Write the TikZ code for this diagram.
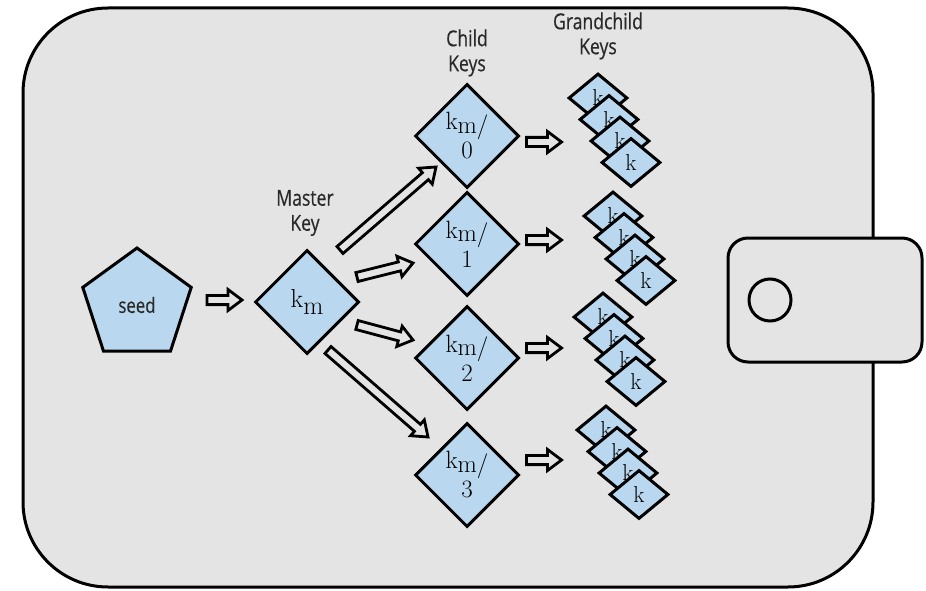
\documentclass[tikz,border=0pt]{standalone}
\usepackage{fontspec}
\usetikzlibrary{shapes.geometric,calc}
\newfontfamily\labelfont[FakeStretch=0.8,FakeBold=0.5]{Open Sans}
\definecolor{walletgray}{HTML}{E4E4E4}
\definecolor{keyblue}{HTML}{B9D8EF}
\definecolor{labelgray}{HTML}{2A2A2A}

\tikzset{
  keybox/.style={diamond, draw, fill=keyblue, line width=3pt, inner sep=0pt,
    minimum size=104pt, align=center, font=\fontsize{25}{29}\selectfont},
  subkey/.style={diamond, draw, fill=keyblue, line width=3pt, inner sep=0pt,
    minimum width=59pt, minimum height=49pt, font=\fontsize{23}{24}\selectfont},
  caption/.style={align=center, text=labelgray,
    font=\labelfont\fontsize{22}{25}\selectfont},
  % hollow block arrow from start to target
  hollow/.style={draw, fill=walletgray, line width=2.8pt, line join=miter,
    to path={($(\tikztostart)!4.6pt!90:(\tikztotarget)$)
      -- ($(\tikztotarget)!14pt!(\tikztostart)!4.6pt!90:(\tikztotarget)$)
      -- ($(\tikztotarget)!14pt!(\tikztostart)!10.5pt!90:(\tikztotarget)$)
      -- (\tikztotarget)
      -- ($(\tikztotarget)!14pt!(\tikztostart)!10.5pt!-90:(\tikztotarget)$)
      -- ($(\tikztotarget)!14pt!(\tikztostart)!4.6pt!-90:(\tikztotarget)$)
      -- ($(\tikztostart)!4.6pt!-90:(\tikztotarget)$) -- cycle}}
}

\begin{document}
\begin{tikzpicture}[x=1pt, y=-1pt]
\useasboundingbox (0,0) rectangle (926,591);

% wallet body and clasp
\draw[line width=3pt, fill=walletgray, rounded corners=85pt] (23,8) rectangle (873,587);
\draw[line width=3pt, fill=walletgray, rounded corners=20pt] (728,238) rectangle (922,362);
\draw[line width=3pt] (770,300) circle (21pt);

% seed and master key
\node[regular polygon, regular polygon sides=5, draw, fill=keyblue, line width=3pt,
  inner sep=0pt, minimum size=114pt, font=\labelfont\fontsize{21}{23}\selectfont,
  text=labelgray] (seed) at (137,305) {seed};
\node[keybox, font=\fontsize{26}{29}\selectfont] (master) at (307,302) {k\raisebox{-.6ex}{m}};
\node[caption] (mastercap) at (305,213) {Master\\Key};
\draw[hollow] ($(seed)+(70,-5)$) to ($(master)+(-65,-2)$);

% child keys
\node[caption] (childcap) at (467,53) {Child\\Keys};
\foreach \i/\y in {0/136, 1/244, 2/358, 3/475}
  \node[keybox] (kc\i) at (467,\y) {k\raisebox{-.3ex}{m/}\\\i};

\draw[hollow] ($(master)+(33,-52)$) to ($(kc0)+(-31,31)$);
\draw[hollow] ($(master)+(50,-25)$) to ($(kc1)+(-54,19)$);
\draw[hollow] ($(master)+(50,23)$) to ($(kc2)+(-54,-18)$);
\draw[hollow] ($(master)+(21,48)$) to ($(kc3)+(-39,-38)$);

% grandchild keys
\node[caption] (grandcap) at (598,36) {Grandchild\\Keys};
\foreach \i/\x/\y in {0/598/98, 1/613/216, 2/603/317, 3/606/430}
  \foreach \j in {0,...,3}
    \node[subkey] (g\i\j) at (\x+11*\j, \y+21.5*\j) {k};

\foreach \i/\dy in {0/6, 1/-4, 2/-10, 3/-15}
  \draw[hollow] ($(kc\i.east)+(6,\dy)$) to ++(35,0);
\end{tikzpicture}
\end{document}
